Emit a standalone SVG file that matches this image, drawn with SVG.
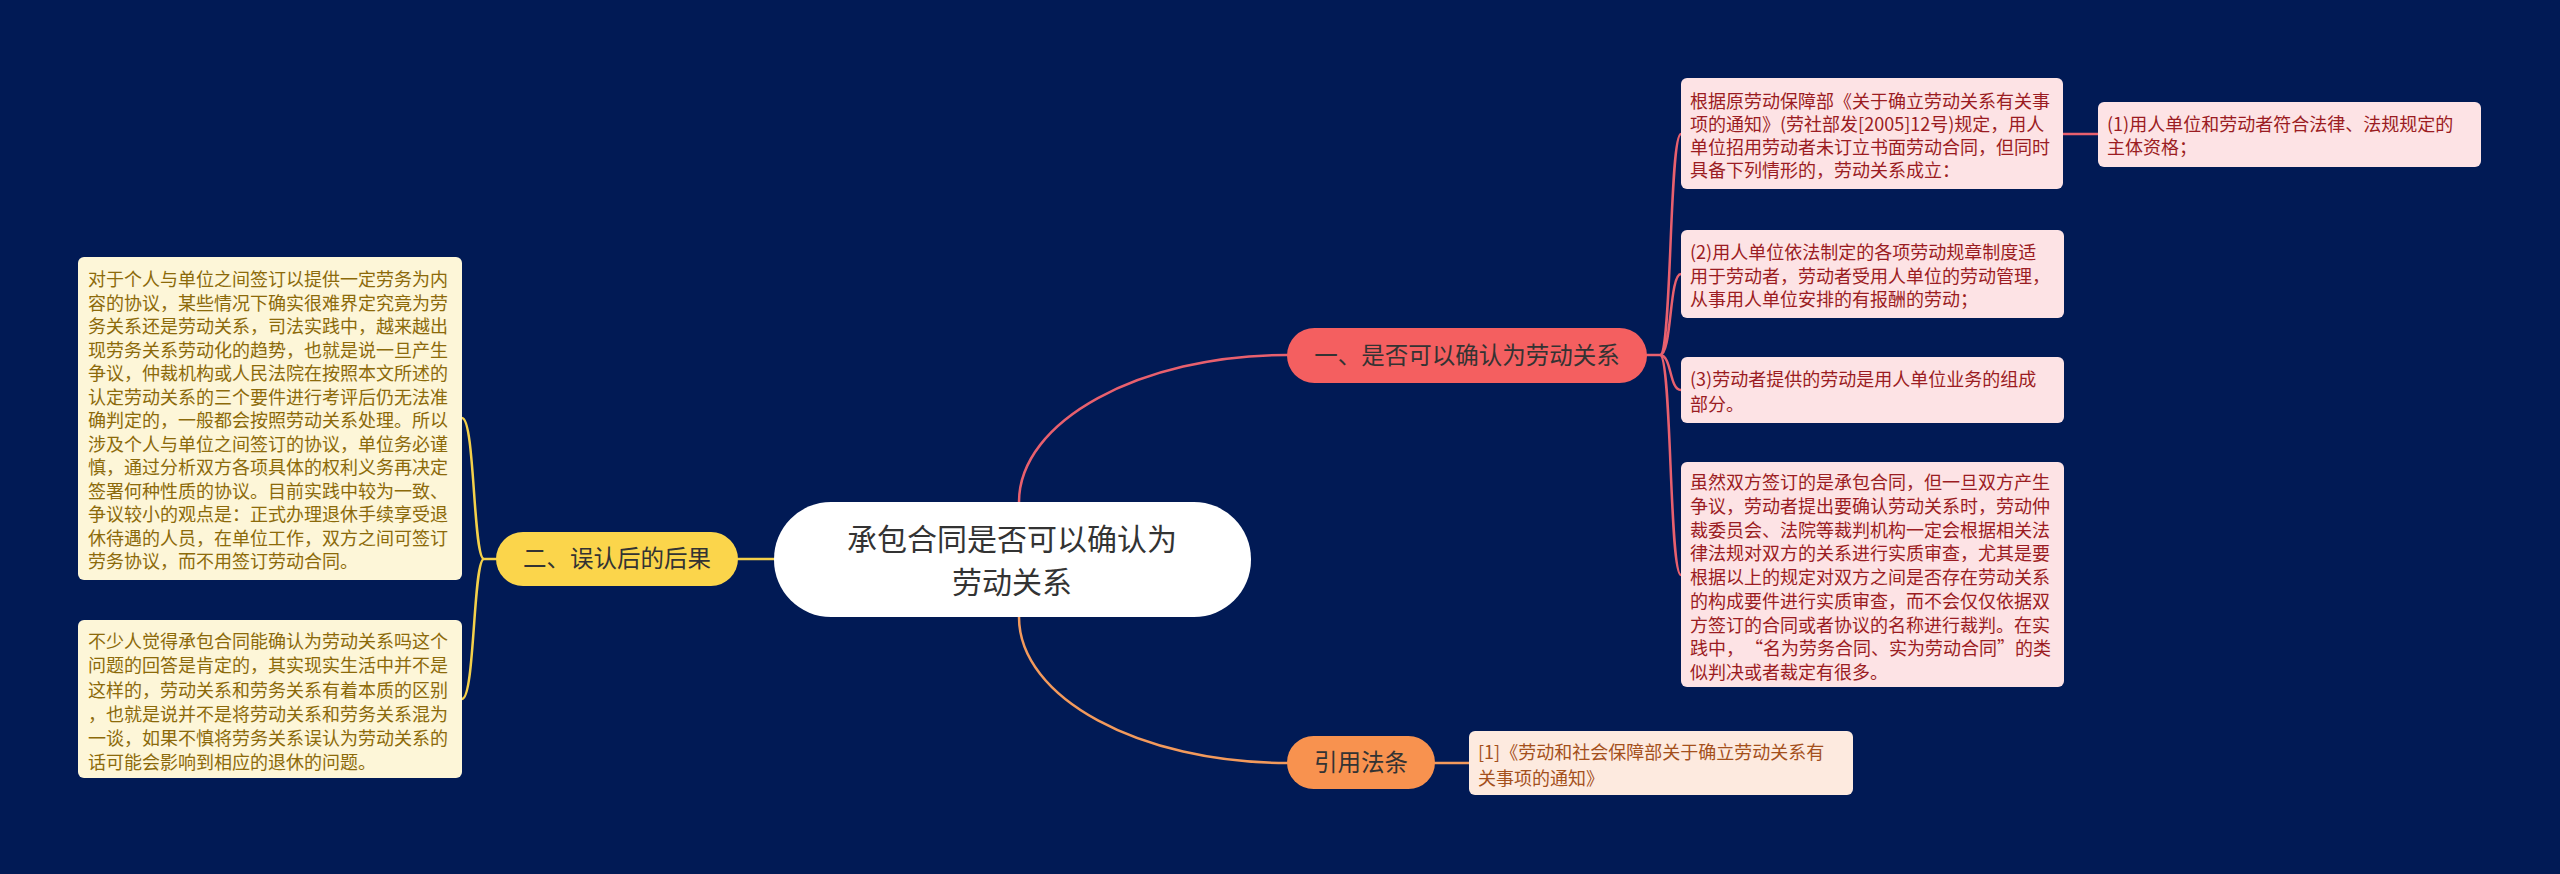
<svg xmlns="http://www.w3.org/2000/svg" width="2560" height="874" viewBox="0 0 2560 874">
<style>
text{font-family:"Noto Sans CJK SC","Noto Sans",sans-serif;}
.c{fill:none;stroke-width:2.5;stroke-linecap:round}
.r{stroke:#e8606e}
.o{stroke:#f39a5c}
.y{stroke:#f4d04a}
.pk rect{fill:#fde3e5}
.pk text{fill:#9b1c22;font-size:18px}
.ye rect{fill:#fdf6d8}
.ye text{fill:#8c6a0a;font-size:18px}
.pe rect{fill:#fdeadf}
.pe text{fill:#a4501c;font-size:18px}
.nd text{fill:#333;font-size:23.5px;text-anchor:middle}
</style>
<rect width="2560" height="874" fill="#011a55"/>
<g id="connectors">
<path class="c r" d="M1019,502 C1019,421 1140,355 1287,355"/>
<path class="c o" d="M1019,617 C1019,698 1140,763 1287,763"/>
<path class="c y" d="M774,559 L738,559"/>
<path class="c y" d="M496,559 L484,559 M484,559 C473,559 475,418 462,418 M484,559 C473,559 475,699 462,699"/>
<path class="c r" d="M1647,355 L1660,355 M1660,355 C1672,355 1669,134 1681,134 M1660,355 C1672,355 1669,274 1681,274 M1660,355 C1672,355 1669,390 1681,390 M1660,355 C1672,355 1669,575 1681,575"/>
<path class="c r" d="M2063,134 L2098,134"/>
<path class="c o" d="M1435,763 L1469,763"/>
</g>
<g id="center">
<rect x="774" y="502" width="477" height="115" rx="57" fill="#ffffff"/>
<text x="1012" y="550" font-size="30" fill="#333" text-anchor="middle">承包合同是否可以确认为</text>
<text x="1012" y="593" font-size="30" fill="#333" text-anchor="middle">劳动关系</text>
</g>
<g id="n1" class="nd">
<rect x="1287" y="328" width="360" height="55" rx="27.5" fill="#f45f60"/>
<text x="1467" y="364">一、是否可以确认为劳动关系</text>
</g>
<g id="n2" class="nd">
<rect x="496" y="532" width="242" height="54" rx="27" fill="#fbd54b"/>
<text x="617" y="567">二、误认后的后果</text>
</g>
<g id="n3" class="nd">
<rect x="1287" y="736" width="148" height="53" rx="26.5" fill="#f8924f"/>
<text x="1361" y="771">引用法条</text>
</g>
<g id="b1" class="pk">
<rect x="1681" y="78" width="382" height="111" rx="6"/>
<text x="1690" y="108">根据原劳动保障部《关于确立劳动关系有关事</text>
<text x="1690" y="131">项的通知》(劳社部发[2005]12号)规定，用人</text>
<text x="1690" y="154">单位招用劳动者未订立书面劳动合同，但同时</text>
<text x="1690" y="177">具备下列情形的，劳动关系成立：</text>
</g>
<g id="b1a" class="pk">
<rect x="2098" y="102" width="383" height="65" rx="6"/>
<text x="2107" y="131">(1)用人单位和劳动者符合法律、法规规定的</text>
<text x="2107" y="154">主体资格；</text>
</g>
<g id="b2" class="pk">
<rect x="1681" y="230" width="383" height="88" rx="6"/>
<text x="1690" y="259">(2)用人单位依法制定的各项劳动规章制度适</text>
<text x="1690" y="283">用于劳动者，劳动者受用人单位的劳动管理，</text>
<text x="1690" y="306">从事用人单位安排的有报酬的劳动；</text>
</g>
<g id="b3" class="pk">
<rect x="1681" y="357" width="383" height="66" rx="6"/>
<text x="1690" y="386">(3)劳动者提供的劳动是用人单位业务的组成</text>
<text x="1690" y="411">部分。</text>
</g>
<g id="b4" class="pk">
<rect x="1681" y="462" width="383" height="225" rx="6"/>
<text x="1690" y="489">虽然双方签订的是承包合同，但一旦双方产生</text>
<text x="1690" y="513">争议，劳动者提出要确认劳动关系时，劳动仲</text>
<text x="1690" y="537">裁委员会、法院等裁判机构一定会根据相关法</text>
<text x="1690" y="560">律法规对双方的关系进行实质审查，尤其是要</text>
<text x="1690" y="584">根据以上的规定对双方之间是否存在劳动关系</text>
<text x="1690" y="608">的构成要件进行实质审查，而不会仅仅依据双</text>
<text x="1690" y="632">方签订的合同或者协议的名称进行裁判。在实</text>
<text x="1690" y="655">践中，<tspan dx="10">“名为劳务合同、实为劳动合同”的类</tspan></text>
<text x="1690" y="679">似判决或者裁定有很多。</text>
</g>
<g id="b5" class="pe">
<rect x="1469" y="731" width="384" height="64" rx="6"/>
<text x="1478" y="759">[1]《劳动和社会保障部关于确立劳动关系有</text>
<text x="1478" y="785">关事项的通知》</text>
</g>
<g id="b6" class="ye">
<rect x="78" y="257" width="384" height="323" rx="6"/>
<text x="88" y="286">对于个人与单位之间签订以提供一定劳务为内</text>
<text x="88" y="310">容的协议，某些情况下确实很难界定究竟为劳</text>
<text x="88" y="333">务关系还是劳动关系，司法实践中，越来越出</text>
<text x="88" y="357">现劳务关系劳动化的趋势，也就是说一旦产生</text>
<text x="88" y="380">争议，仲裁机构或人民法院在按照本文所述的</text>
<text x="88" y="404">认定劳动关系的三个要件进行考评后仍无法准</text>
<text x="88" y="427">确判定的，一般都会按照劳动关系处理。所以</text>
<text x="88" y="451">涉及个人与单位之间签订的协议，单位务必谨</text>
<text x="88" y="474">慎，通过分析双方各项具体的权利义务再决定</text>
<text x="88" y="498">签署何种性质的协议。目前实践中较为一致、</text>
<text x="88" y="521">争议较小的观点是：正式办理退休手续享受退</text>
<text x="88" y="545">休待遇的人员，在单位工作，双方之间可签订</text>
<text x="88" y="568">劳务协议，而不用签订劳动合同。</text>
</g>
<g id="b7" class="ye">
<rect x="78" y="620" width="384" height="158" rx="6"/>
<text x="88" y="648">不少人觉得承包合同能确认为劳动关系吗这个</text>
<text x="88" y="672">问题的回答是肯定的，其实现实生活中并不是</text>
<text x="88" y="697">这样的，劳动关系和劳务关系有着本质的区别</text>
<text x="88" y="721">，也就是说并不是将劳动关系和劳务关系混为</text>
<text x="88" y="745">一谈，如果不慎将劳务关系误认为劳动关系的</text>
<text x="88" y="769">话可能会影响到相应的退休的问题。</text>
</g>
</svg>
